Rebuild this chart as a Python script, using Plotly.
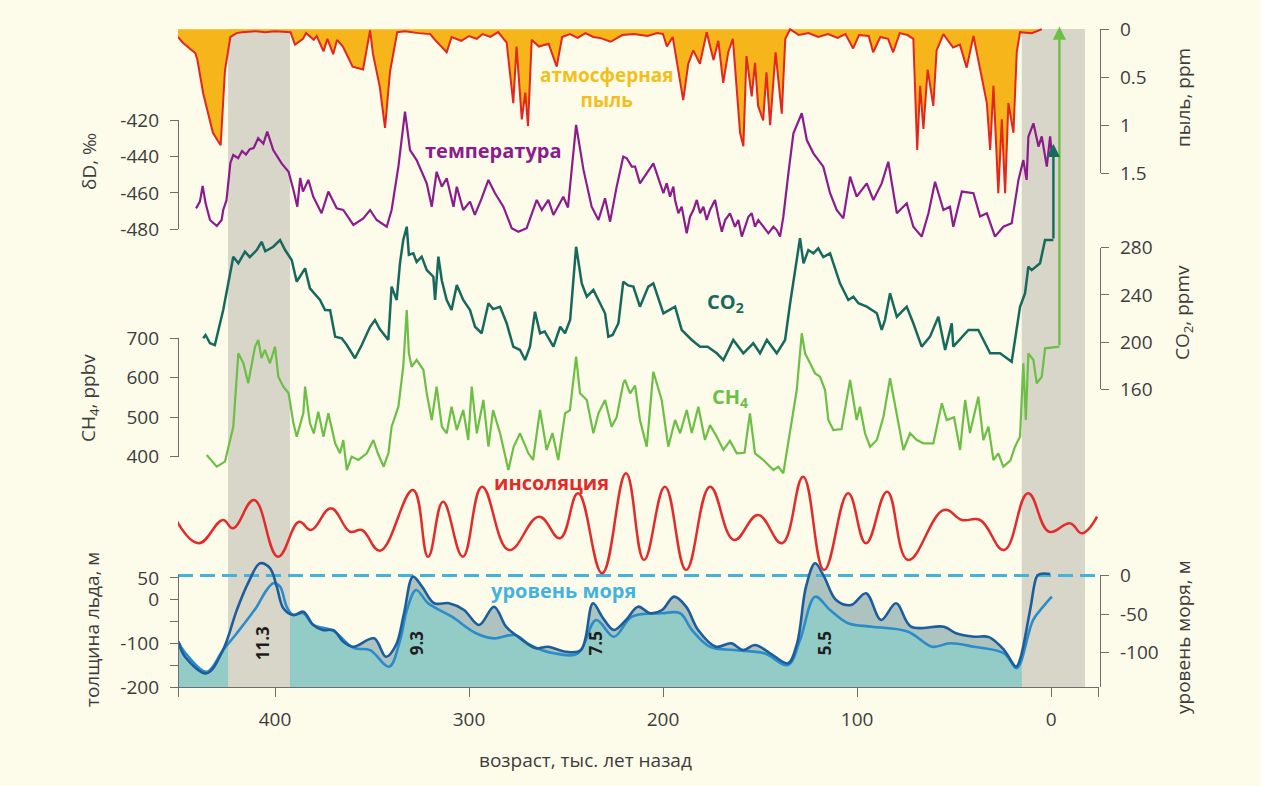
import plotly.graph_objects as go

W, H = 1261, 786
FONT = "Open Sans"

# ---------------- records (age in thousand years before present) ----------------
dust_age = [450.0, 447.5, 441.0, 440.0, 437.0, 432.0, 428.0, 425.8, 423.0, 419.8,
            417.0, 410.0, 405.0, 400.0, 392.0, 389.7, 385.6, 384.0, 380.0, 378.5,
            375.0, 373.0, 370.0, 368.0, 365.0, 360.0, 354.6, 351.0, 349.5, 346.0,
            343.3, 340.7, 337.0, 333.0, 326.0, 320.0, 318.0, 311.5, 309.0, 304.0,
            300.0, 296.0, 293.0, 289.0, 285.0, 280.6, 277.2, 275.5, 272.8, 271.0,
            269.6, 267.7, 264.0, 259.0, 254.8, 252.0, 248.0, 244.0, 240.0, 236.0,
            232.5, 227.0, 221.0, 215.0, 208.0, 203.0, 200.0, 198.0, 195.0, 189.6,
            187.0, 184.4, 181.0, 177.5, 174.0, 171.5, 169.0, 166.4, 164.0, 160.3,
            158.6, 157.0, 154.3, 152.6, 151.0, 148.4, 146.7, 144.8, 142.0, 138.8,
            137.0, 134.5, 130.0, 125.0, 120.0, 115.0, 110.0, 106.0, 102.0, 99.0,
            94.0, 91.7, 88.0, 84.0, 81.4, 78.0, 74.0, 71.0, 69.0, 67.5,
            65.8, 63.6, 60.7, 59.0, 55.5, 50.5, 47.0, 43.5, 40.0, 36.6,
            33.1, 31.4, 29.7, 27.2, 25.4, 23.7, 22.0, 19.4, 17.7, 16.0,
            10.0, 4.8]
dust_ppm = [0.08, 0.14, 0.25, 0.32, 0.67, 1.08, 1.21, 0.43, 0.08, 0.04,
            0.03, 0.02, 0.03, 0.02, 0.03, 0.16, 0.10, 0.04, 0.11, 0.07,
            0.23, 0.10, 0.26, 0.11, 0.18, 0.39, 0.42, 0.01, 0.26, 0.60,
            1.03, 0.44, 0.03, 0.02, 0.04, 0.05, 0.10, 0.24, 0.08, 0.12,
            0.07, 0.10, 0.05, 0.08, 0.03, 0.14, 0.77, 0.18, 0.94, 0.66,
            1.01, 0.11, 0.18, 0.15, 0.39, 0.08, 0.05, 0.09, 0.04, 0.08,
            0.09, 0.13, 0.06, 0.05, 0.07, 0.04, 0.05, 0.18, 0.08, 0.74,
            0.36, 0.22, 0.36, 0.03, 0.32, 0.12, 0.56, 0.24, 0.10, 1.08,
            1.22, 0.28, 0.70, 0.35, 0.80, 0.95, 0.45, 1.00, 0.24, 0.88,
            0.10, 0.00, 0.06, 0.04, 0.08, 0.05, 0.09, 0.05, 0.20, 0.06,
            0.07, 0.24, 0.08, 0.10, 0.24, 0.04, 0.06, 0.10, 1.26, 0.59,
            1.04, 0.42, 0.80, 0.22, 0.05, 0.19, 0.16, 0.40, 0.07, 0.42,
            0.77, 1.26, 0.59, 1.71, 0.94, 1.71, 0.77, 1.08, 0.24, 0.03,
            0.04, 0.00]

dd_age = [440.7, 438.7, 437.3, 435.8, 433.5, 430.0, 427.5, 426.7, 425.0, 423.0,
          421.5, 419.0, 417.0, 415.0, 413.0, 411.0, 408.7, 406.0, 404.0, 400.9,
          396.6, 393.0, 390.5, 388.5, 387.0, 385.6, 382.8, 380.3, 376.0, 372.5,
          368.2, 364.8, 359.6, 354.5, 351.0, 347.6, 342.4, 339.9, 336.4, 333.0,
          330.4, 327.0, 321.8, 319.2, 316.7, 314.0, 311.5, 308.0, 306.3, 303.0,
          299.5, 297.0, 293.5, 290.0, 286.6, 282.3, 278.0, 274.6, 270.3, 265.1,
          262.5, 259.1, 256.5, 251.4, 249.0, 244.8, 241.0, 236.8, 233.3, 229.9,
          227.3, 223.9, 220.5, 218.7, 216.1, 214.4, 211.9, 205.0, 199.8, 198.1,
          196.4, 194.7, 193.8, 192.1, 190.4, 188.7, 187.8, 186.1, 184.4, 182.6,
          180.9, 179.2, 177.5, 175.8, 173.2, 171.5, 169.7, 168.0, 165.5, 162.9,
          161.2, 159.4, 157.7, 156.0, 154.3, 152.6, 150.9, 148.3, 145.7, 143.1,
          141.4, 139.7, 138.0, 135.4, 132.8, 128.5, 125.9, 122.5, 117.4, 113.9,
          110.5, 107.1, 103.6, 100.2, 95.0, 91.6, 87.3, 83.9, 79.5, 74.4,
          71.0, 66.7, 63.2, 59.8, 55.5, 52.1, 50.4, 46.0, 40.0, 36.6,
          33.1, 28.9, 24.6, 20.3, 16.8, 14.3, 12.6, 11.7, 9.1, 6.5,
          4.8, 2.2, 0.5, -0.5]
dd_permil = [-468.5, -464.8, -456.2, -465.6, -474.9, -478.2, -474.9, -469.4, -464.0, -443.6,
             -439.2, -441.0, -437.0, -439.0, -436.0, -435.4, -430.0, -433.0, -426.4, -436.5,
             -443.8, -448.4, -458.4, -467.6, -451.8, -459.3, -452.9, -462.1, -471.2, -459.3,
             -468.5, -469.4, -477.6, -474.0, -469.4, -474.9, -478.6, -469.4, -445.6, -415.4,
             -436.5, -442.0, -454.8, -467.6, -448.4, -456.6, -452.0, -467.6, -456.6, -469.4,
             -464.8, -472.1, -463.0, -452.9, -460.2, -467.6, -479.4, -481.3, -479.4, -463.9,
             -469.4, -463.9, -472.1, -462.1, -468.0, -422.7, -447.4, -467.6, -474.9, -463.0,
             -475.8, -456.6, -440.1, -441.0, -445.6, -445.6, -454.8, -443.8, -460.2, -454.7,
             -462.1, -456.6, -463.9, -471.2, -467.6, -478.6, -482.2, -473.1, -469.4, -463.9,
             -471.2, -467.6, -474.9, -469.4, -463.9, -473.1, -481.3, -474.9, -471.2, -478.6,
             -474.9, -484.0, -478.6, -473.1, -471.2, -478.6, -474.9, -478.6, -482.2, -478.6,
             -480.4, -484.0, -473.1, -449.3, -427.3, -416.3, -431.0, -438.3, -445.6, -460.2,
             -469.4, -474.0, -451.1, -462.1, -454.8, -463.9, -454.8, -442.9, -471.2, -465.7,
             -478.6, -484.0, -471.2, -453.9, -469.4, -467.6, -478.6, -459.3, -460.2, -473.0,
             -471.2, -484.0, -478.6, -476.7, -452.9, -442.0, -452.9, -429.2, -421.8, -434.6,
             -429.0, -445.6, -429.0, -440.0]

co2_age = [437.0, 435.8, 433.5, 431.0, 426.7, 421.5, 418.9, 415.5, 413.0, 409.4,
           406.9, 405.0, 400.9, 397.4, 394.8, 391.4, 388.8, 384.5, 382.0, 376.8,
           374.2, 371.6, 369.0, 365.6, 363.0, 358.8, 355.3, 351.0, 348.5, 346.0,
           341.6, 339.9, 337.3, 335.6, 333.9, 332.1, 331.0, 328.7, 327.0, 324.4,
           321.8, 318.4, 317.5, 315.8, 314.0, 311.5, 309.0, 306.3, 303.0, 299.5,
           296.9, 293.5, 290.0, 287.6, 284.0, 280.6, 277.2, 273.7, 271.1, 268.6,
           266.0, 263.4, 261.0, 256.5, 253.0, 250.5, 247.9, 244.8, 241.9, 239.3,
           235.9, 232.5, 229.9, 228.2, 226.0, 223.0, 220.5, 218.0, 215.3, 211.9,
           207.6, 205.0, 199.8, 193.8, 190.4, 185.2, 180.9, 177.0, 172.3, 168.9,
           163.8, 158.6, 153.5, 150.0, 146.5, 141.4, 137.1, 134.5, 132.0, 129.4,
           127.6, 125.1, 122.5, 120.0, 117.4, 113.9, 112.2, 108.8, 104.5, 101.9,
           99.3, 95.0, 89.8, 87.3, 85.6, 83.0, 79.5, 74.4, 71.0, 66.7,
           62.4, 58.1, 54.6, 51.2, 50.4, 42.6, 37.5, 31.4, 26.3, 20.3,
           16.0, 13.4, 11.7, 10.0, 5.7, 3.1, -1.2]
co2_ppmv = [203.2, 206.0, 199.0, 197.5, 227.2, 272.4, 266.8, 276.6, 272.0, 278.0,
            285.0, 277.0, 280.8, 286.5, 278.0, 269.6, 251.2, 262.5, 245.6, 235.7,
            227.2, 227.0, 204.6, 203.2, 197.5, 186.3, 197.5, 213.0, 218.7, 211.0,
            201.8, 247.0, 235.7, 266.8, 286.5, 297.8, 274.0, 275.2, 268.0, 272.4,
            261.1, 255.4, 235.7, 272.4, 252.0, 235.7, 227.2, 248.4, 235.7, 227.2,
            213.0, 207.5, 232.9, 228.0, 230.0, 216.0, 196.1, 193.3, 184.8, 196.1,
            225.8, 207.5, 209.0, 196.1, 213.0, 207.5, 218.7, 280.8, 249.8, 238.5,
            244.2, 232.9, 224.4, 204.6, 206.0, 216.0, 251.2, 248.0, 247.0, 230.0,
            247.0, 249.8, 224.4, 230.0, 210.3, 201.8, 196.1, 196.0, 190.5, 184.8,
            201.8, 190.5, 199.0, 190.5, 201.8, 190.5, 201.8, 232.9, 258.3, 288.0,
            266.8, 278.0, 275.2, 279.5, 272.0, 275.2, 266.8, 249.8, 235.7, 238.5,
            232.9, 230.0, 224.4, 210.3, 218.7, 241.4, 221.5, 230.0, 216.0, 196.1,
            204.6, 221.5, 193.3, 216.0, 196.1, 210.3, 210.3, 190.5, 190.5, 183.4,
            230.0, 241.4, 263.9, 261.0, 266.8, 286.5, 286.5]
co2_now = 368.0

ch4_age = [435.2, 430.0, 425.8, 421.5, 418.9, 416.3, 413.8, 410.3, 408.6, 407.0,
           405.2, 402.6, 400.0, 398.3, 395.7, 393.0, 390.5, 388.8, 385.4, 384.5,
           382.0, 380.0, 377.7, 375.0, 372.5, 369.0, 366.5, 364.8, 363.0, 360.5,
           357.0, 352.7, 349.3, 347.0, 344.0, 341.5, 339.9, 336.4, 333.9, 332.1,
           331.0, 329.6, 327.0, 323.5, 321.8, 319.2, 316.7, 314.0, 311.5, 309.0,
           306.3, 303.0, 300.4, 298.6, 296.0, 292.6, 290.0, 287.6, 284.0, 279.7,
           277.0, 273.7, 269.4, 267.0, 263.4, 260.0, 257.0, 254.0, 250.5, 248.0,
           244.8, 242.8, 239.3, 235.9, 233.3, 229.9, 226.5, 223.9, 220.5, 219.6,
           217.0, 214.4, 211.9, 208.4, 205.0, 200.7, 197.3, 193.8, 191.2, 187.8,
           185.2, 181.8, 178.4, 175.8, 172.3, 168.9, 165.5, 162.0, 158.0, 155.2,
           152.6, 148.3, 143.1, 140.6, 138.0, 134.5, 131.1, 128.5, 126.8, 124.2,
           121.6, 119.1, 116.5, 114.8, 112.2, 108.0, 103.6, 100.2, 98.5, 95.9,
           93.3, 89.8, 86.4, 83.0, 79.5, 76.1, 72.7, 69.2, 65.8, 60.7,
           56.3, 53.8, 50.0, 46.9, 44.3, 41.8, 37.5, 34.9, 32.3, 29.7,
           27.2, 24.6, 21.0, 18.6, 16.0, 14.3, 13.0, 11.7, 9.1, 7.4,
           4.8, 3.1, -4.3]
ch4_ppbv = [404.3, 374.7, 387.4, 476.0, 662.0, 637.0, 586.0, 678.7, 695.7, 650.0,
            670.4, 636.7, 678.7, 602.7, 577.4, 560.6, 484.6, 450.8, 510.0, 577.4,
            484.6, 459.0, 514.0, 450.8, 510.0, 434.0, 408.6, 442.0, 366.3, 400.0,
            391.7, 408.6, 442.3, 408.6, 374.7, 410.0, 476.0, 526.7, 628.0, 771.7,
            662.0, 628.0, 645.0, 619.7, 560.6, 493.0, 577.4, 476.0, 459.3, 526.7,
            467.7, 518.3, 442.3, 577.4, 459.0, 543.7, 425.4, 518.0, 459.3, 366.3,
            425.0, 459.3, 408.6, 391.7, 518.3, 417.0, 460.0, 391.7, 510.0, 518.0,
            653.4, 560.6, 543.7, 459.3, 510.0, 543.7, 476.0, 500.0, 586.0, 594.4,
            560.6, 580.0, 493.0, 425.4, 615.4, 543.7, 425.4, 493.0, 459.3, 518.3,
            460.0, 526.7, 442.3, 480.0, 450.8, 417.0, 440.0, 408.6, 410.0, 510.0,
            408.6, 391.7, 366.3, 374.7, 358.0, 459.3, 569.0, 712.7, 662.0, 636.7,
            611.0, 602.7, 569.0, 493.0, 467.7, 470.0, 594.4, 493.0, 526.7, 459.3,
            425.4, 442.3, 501.4, 598.7, 501.4, 417.0, 459.3, 442.3, 434.0, 434.0,
            535.3, 493.0, 500.0, 417.0, 543.7, 460.0, 552.0, 442.3, 476.0, 391.7,
            408.6, 374.7, 390.0, 425.4, 450.8, 636.7, 493.0, 662.0, 645.0, 586.0,
            602.7, 674.7, 678.7]
ch4_now = 1490.0

ins_age = [451.0, 439.3, 426.9, 421.6, 410.8, 398.5, 387.6, 381.4, 371.2, 361.3,
           355.2, 345.9, 328.9, 321.1, 313.4, 303.2, 293.3, 279.4, 263.9, 253.1,
           243.8, 231.4, 219.1, 209.8, 199.0, 188.1, 175.8, 163.4, 151.0, 138.7,
           127.8, 117.0, 104.6, 95.4, 84.5, 73.7, 55.2, 45.9, 36.6, 24.2,
           11.9, 1.0, -9.8, -16.0, -23.7]
ins_wm2 = [498.3, 472.7, 498.3, 489.2, 520.3, 457.9, 496.4, 487.3, 511.2, 485.4,
           487.3, 464.5, 531.3, 457.9, 518.4, 457.9, 535.0, 465.3, 501.9, 478.2,
           527.7, 439.7, 549.6, 454.3, 535.0, 443.3, 535.0, 476.3, 503.8, 472.7,
           545.9, 443.3, 527.7, 472.7, 529.4, 454.3, 509.3, 498.3, 498.3, 465.3,
           527.7, 485.4, 494.6, 483.6, 501.9]

sea_a_age = [449.8, 446.4, 435.2, 426.8, 419.7, 413.9, 407.7, 402.6, 399.1, 395.7,
             390.6, 385.4, 380.3, 375.1, 369.9, 364.8, 359.6, 349.0, 342.8, 337.6,
             333.5, 328.9, 324.2, 318.0, 310.3, 302.6, 294.8, 287.1, 280.9, 274.7,
             265.5, 259.3, 250.0, 242.3, 236.1, 231.4, 225.3, 219.1, 212.9, 206.7,
             200.5, 194.3, 188.1, 181.9, 172.7, 164.9, 158.8, 152.6, 144.8, 135.6,
             130.9, 126.3, 121.6, 117.0, 110.8, 103.1, 95.4, 87.6, 79.9, 72.2,
             55.2, 49.0, 39.7, 32.0, 24.2, 18.0, 16.0, 10.8, 7.4, 5.7,
             0.5]
sea_a_m = [-86.0, -105.5, -127.0, -96.8, -45.0, -10.0, 15.8, 9.5, -14.5, -42.4,
           -51.3, -47.0, -64.3, -71.0, -71.0, -86.0, -92.5, -81.6, -105.5, -90.0,
           -49.0, -1.5, -14.5, -36.0, -36.0, -44.8, -64.3, -40.5, -66.5, -79.5,
           -94.5, -92.5, -99.0, -96.8, -36.0, -53.5, -70.8, -57.8, -40.5, -49.0,
           -44.8, -27.5, -40.5, -70.8, -92.5, -88.0, -96.8, -90.3, -101.0, -114.0,
           -88.0, -14.5, 15.8, -1.5, -31.8, -38.3, -23.0, -57.8, -36.0, -66.5,
           -66.5, -75.0, -79.5, -80.0, -96.8, -118.4, -109.0, -44.8, -1.5, 2.0,
           2.0]

sea_b_age = [449.8, 446.4, 435.2, 426.8, 419.7, 409.4, 404.6, 400.9, 397.4, 394.0,
             390.6, 385.4, 380.3, 369.9, 359.6, 351.0, 341.2, 335.6, 332.0, 327.3,
             321.1, 308.8, 296.4, 287.1, 276.3, 268.6, 256.2, 243.8, 234.5, 225.3,
             216.0, 200.5, 191.2, 185.1, 175.8, 163.4, 147.9, 135.6, 129.4, 121.6,
             113.9, 104.6, 92.3, 73.7, 61.3, 52.1, 39.7, 24.2, 18.0, 16.0,
             9.3, 4.1, -0.4]
sea_b_m = [-86.0, -100.0, -125.0, -96.8, -75.0, -40.5, -20.0, -10.0, -14.5, -40.5,
           -51.3, -49.0, -64.0, -72.0, -94.0, -97.0, -118.4, -85.0, -44.8, -18.8,
           -36.0, -53.5, -75.0, -81.6, -77.3, -90.3, -101.0, -101.0, -57.8, -79.5,
           -53.5, -49.0, -49.0, -70.8, -92.5, -96.8, -101.0, -116.2, -83.8, -27.5,
           -44.8, -62.0, -66.5, -73.0, -92.5, -88.0, -92.5, -101.0, -120.5, -115.0,
           -58.0, -40.5, -27.5]

interglacial_start = [424.2, 15.1]
interglacial_end = [392.3, -17.5]

mis_text = ["11.3", "9.3", "7.5", "5.5"]
mis_age = [406.7, 327.3, 235.0, 117.0]

age_ticks = [400, 300, 200, 100, 0]
dd_ticks = [-420, -440, -460, -480]
ch4_ticks = [700, 600, 500, 400]
ice_ticks = [50, 0, -50, -100, -150, -200]
ice_ticktext = ["50", "0", "", "-100", "", "-200"]
dust_ticks = [0, 0.5, 1, 1.5]
co2_ticks = [280, 240, 200, 160]
sea_ticks = [0, -50, -100]

# ---------------- colours ----------------
CREAM = "#fdfbea"
BAND = "#d8d5c9"
AXIS = "#6e6e6e"
TXT = "#3d3d3d"
DUST_FILL = "#f6b51a"
DUST_LINE = "#e52520"
DUST_LABEL = "#f3c01b"
PURPLE = "#8c1c8c"
TEAL = "#17695d"
GREEN = "#6cbf45"
INSOL = "#e22b2b"
SEA_DARK = "#1d5d9b"
SEA_MID = "#2b8cca"
SEA_FILL = "#93cbc6"
SEA_FILL_UP = "#adc3bf"
DASH = "#44b3dc"

# ---------------- page geometry ----------------
AGE_LEFT, AGE_RIGHT = 450.0, -24.7
PLOT_LEFT, PLOT_RIGHT, PLOT_BOTTOM, PLOT_TOP = 178.0, 1099.0, 687.0, 29.0
LEFT_AXIS_X, RIGHT_AXIS_X = 178.0, 1100.0


def paper_y(py):
    return 1 - py / H


def paper_x(px):
    return px / W


def span(cal, top=0.0, bottom=float(H)):
    """Value range for pixel rows top..bottom, linear through two (value, row) pairs."""
    (va, pa), (vb, pb) = cal
    k = (pb - pa) / (vb - va)
    return [va + (bottom - pa) / k, va + (top - pa) / k]


def label_of(v):
    # plain hyphen for negative tick labels
    return f"{v:g}".replace("\u2212", "-")


# value -> pixel row calibrations of the stacked scales
CAL_SEA = [(0, 575.5), (-100, 652.5)]
CAL_ICE = [(50, 577.9), (-200, 687.0)]
CAL_DUST = [(0, 29.3), (1.5, 173.0)]
CAL_DD = [(-420, 120.0), (-480, 229.3)]
CAL_CO2 = [(280, 247.7), (160, 389.3)]
CAL_CH4 = [(700, 338.3), (400, 456.7)]
CAL_INS = [(550, 473.0), (440, 573.0)]

sea_floor = span(CAL_SEA, bottom=PLOT_BOTTOM)[0]

fig = go.Figure()
common = dict(mode="lines", hoverinfo="skip", showlegend=False, xaxis="x")

# sea level: shaded areas (drawn first so the interglacial bands cover them)
fig.add_trace(go.Scatter(x=[sea_a_age[0], sea_a_age[-1]], y=[sea_floor, sea_floor],
                         line=dict(width=0), yaxis="y", **common))
fig.add_trace(go.Scatter(x=sea_a_age, y=sea_a_m, fill="tonexty", fillcolor=SEA_FILL_UP,
                         line=dict(width=0, shape="spline"), yaxis="y", **common))
fig.add_trace(go.Scatter(x=[sea_b_age[0], sea_b_age[-1]], y=[sea_floor, sea_floor],
                         line=dict(width=0), yaxis="y", **common))
fig.add_trace(go.Scatter(x=sea_b_age, y=sea_b_m, fill="tonexty", fillcolor=SEA_FILL,
                         line=dict(width=0, shape="spline"), yaxis="y", **common))

# interglacial bands
band_lo, band_hi = paper_y(PLOT_BOTTOM), paper_y(PLOT_TOP)
for a0, a1 in zip(interglacial_start, interglacial_end):
    fig.add_trace(go.Scatter(x=[a0, a0, a1, a1, a0], y=[band_lo, band_hi, band_hi, band_lo, band_lo],
                             fill="toself", fillcolor=BAND, line=dict(width=0), yaxis="y2", **common))

# sea level lines and present-day reference
fig.add_trace(go.Scatter(x=[AGE_LEFT, AGE_RIGHT], y=[0, 0], yaxis="y3",
                         line=dict(color=DASH, width=3, dash="15px,7px"), **common))
fig.add_trace(go.Scatter(x=sea_b_age, y=sea_b_m, yaxis="y3",
                         line=dict(color=SEA_MID, width=2.6, shape="spline"), **common))
fig.add_trace(go.Scatter(x=sea_a_age, y=sea_a_m, yaxis="y3",
                         line=dict(color=SEA_DARK, width=2.6, shape="spline"), **common))

# dust
fig.add_trace(go.Scatter(x=dust_age, y=dust_ppm, yaxis="y4", fill="tozeroy", fillcolor=DUST_FILL,
                         line=dict(color=DUST_LINE, width=2), **common))
# deuterium
fig.add_trace(go.Scatter(x=dd_age, y=dd_permil, yaxis="y5", line=dict(color=PURPLE, width=2.2), **common))
# CO2
fig.add_trace(go.Scatter(x=co2_age, y=co2_ppmv, yaxis="y6", line=dict(color=TEAL, width=2.5), **common))
# CH4
fig.add_trace(go.Scatter(x=ch4_age, y=ch4_ppbv, yaxis="y7", line=dict(color=GREEN, width=2.2), **common))
# insolation
fig.add_trace(go.Scatter(x=ins_age, y=ins_wm2, yaxis="y8",
                         line=dict(color=INSOL, width=2.5, shape="spline", smoothing=1.2), **common))

# scale brackets (axes only)
for yid in ["y9", "y10", "y11", "y12", "y13", "y14"]:
    fig.add_trace(go.Scatter(x=[], y=[], yaxis=yid, **common))

hidden = dict(visible=False, showgrid=False, zeroline=False, fixedrange=True)
tickfont = dict(family=FONT, size=19, color=TXT)


def bracket(cal, top, bottom, side, px, tickvals, ticktext=None):
    pad = 0.05
    rng = span(cal, top=top - pad, bottom=bottom + pad)
    return dict(domain=[paper_y(bottom + pad), paper_y(top - pad)], range=rng, anchor="free",
                position=paper_x(px), side=side, showline=True, linecolor=AXIS, linewidth=1.3,
                ticks="outside", ticklen=8, tickwidth=1.3, tickcolor=AXIS, tickvals=tickvals,
                ticktext=ticktext if ticktext is not None else [label_of(v) for v in tickvals],
                tickfont=tickfont, showgrid=False, zeroline=False, fixedrange=True,
                ticklabelstandoff=7, automargin=False)


layout = dict(
    width=W, height=H, margin=dict(l=0, r=0, t=0, b=0, pad=0, autoexpand=False),
    paper_bgcolor=CREAM, plot_bgcolor="rgba(0,0,0,0)", showlegend=False,
    xaxis=dict(domain=[paper_x(PLOT_LEFT), paper_x(PLOT_RIGHT)], range=[AGE_LEFT, AGE_RIGHT],
               anchor="free", position=paper_y(PLOT_BOTTOM), showline=True, linecolor=AXIS,
               linewidth=1.3, ticks="outside", ticklen=9, tickwidth=1.3, tickcolor=AXIS,
               tickvals=age_ticks, tickfont=tickfont, showgrid=False, zeroline=False,
               fixedrange=True, ticklabelstandoff=6, automargin=False,
               minor=dict(tickvals=[AGE_LEFT - 0.05, AGE_RIGHT + 0.05], ticks="outside", ticklen=9,
                          tickwidth=1.3, tickcolor=AXIS, showgrid=False)),
    yaxis=dict(range=span(CAL_SEA), domain=[0, 1], **hidden),
    yaxis2=dict(range=[0, 1], overlaying="y", **hidden),
    yaxis3=dict(range=span(CAL_SEA), overlaying="y", **hidden),
    yaxis4=dict(range=span(CAL_DUST), overlaying="y", **hidden),
    yaxis5=dict(range=span(CAL_DD), overlaying="y", **hidden),
    yaxis6=dict(range=span(CAL_CO2), overlaying="y", **hidden),
    yaxis7=dict(range=span(CAL_CH4), overlaying="y", **hidden),
    yaxis8=dict(range=span(CAL_INS), overlaying="y", **hidden),
    yaxis9=bracket(CAL_DD, 120.0, 229.3, "left", LEFT_AXIS_X, dd_ticks),
    yaxis10=bracket(CAL_CH4, 338.3, 456.7, "left", LEFT_AXIS_X, ch4_ticks),
    yaxis11=bracket(CAL_ICE, 575.0, PLOT_BOTTOM, "left", LEFT_AXIS_X, ice_ticks, ice_ticktext),
    yaxis12=bracket(CAL_DUST, 29.3, 173.0, "right", RIGHT_AXIS_X, dust_ticks),
    yaxis13=bracket(CAL_CO2, 247.7, 389.3, "right", RIGHT_AXIS_X, co2_ticks),
    yaxis14=bracket(CAL_SEA, 575.0, PLOT_BOTTOM, "right", RIGHT_AXIS_X, sea_ticks),
)
fig.update_layout(**layout)

ann = []


def note(text, px, py, color, size=20, angle=0, bold=True):
    ann.append(dict(text=f"<b>{text}</b>" if bold else text, x=paper_x(px), y=paper_y(py),
                    xref="paper", yref="paper", showarrow=False, textangle=angle,
                    xanchor="center", yanchor="middle",
                    font=dict(family=FONT, size=size, color=color)))


# axis titles
note("δD, ‰", 89, 162, TXT, 19, -90, False)
note("CH<sub>4</sub>, ppbv", 89, 398, TXT, 19, -90, False)
note("толщина льда, м", 92, 630, TXT, 19, -90, False)
note("пыль, ppm", 1183, 98, TXT, 19, -90, False)
note("CO<sub>2</sub>, ppmv", 1183, 313, TXT, 19, -90, False)
note("уровень моря, м", 1183, 637, TXT, 19, -90, False)
note("возраст, тыс. лет назад", 585, 760, TXT, 19, 0, False)

# series labels
note("атмосферная<br>пыль", 607, 87, DUST_LABEL, 19)
note("температура", 493, 150, PURPLE)
note("CO<sub>2</sub>", 726, 303, TEAL)
note("CH<sub>4</sub>", 730, 397, GREEN)
note("инсоляция", 551, 482, INSOL)
note("уровень моря", 563, 590, DASH)

# marine isotope substage numbers at the sea-level highstands
for t, a in zip(mis_text, mis_age):
    ann.append(dict(text=f"<b>{t}</b>", x=a, y=-88, xref="x", yref="y3", showarrow=False,
                    textangle=-90, font=dict(family=FONT, size=17, color="#1e1e1e")))

# present-day levels of the greenhouse gases
ann.append(dict(text="", x=ch4_age[-1], y=ch4_now, ax=ch4_age[-1], ay=ch4_ppbv[-1],
                xref="x", yref="y7", axref="x", ayref="y7", showarrow=True, arrowhead=2,
                arrowsize=1.1, arrowwidth=2.4, arrowcolor=GREEN, standoff=0, startstandoff=0))
ann.append(dict(text="", x=co2_age[-1], y=co2_now, ax=co2_age[-1], ay=co2_ppmv[-1],
                xref="x", yref="y6", axref="x", ayref="y6", showarrow=True, arrowhead=2,
                arrowsize=1.1, arrowwidth=2.4, arrowcolor=TEAL, standoff=0, startstandoff=0))

fig.update_layout(annotations=ann)
fig.write_html("out.html")
